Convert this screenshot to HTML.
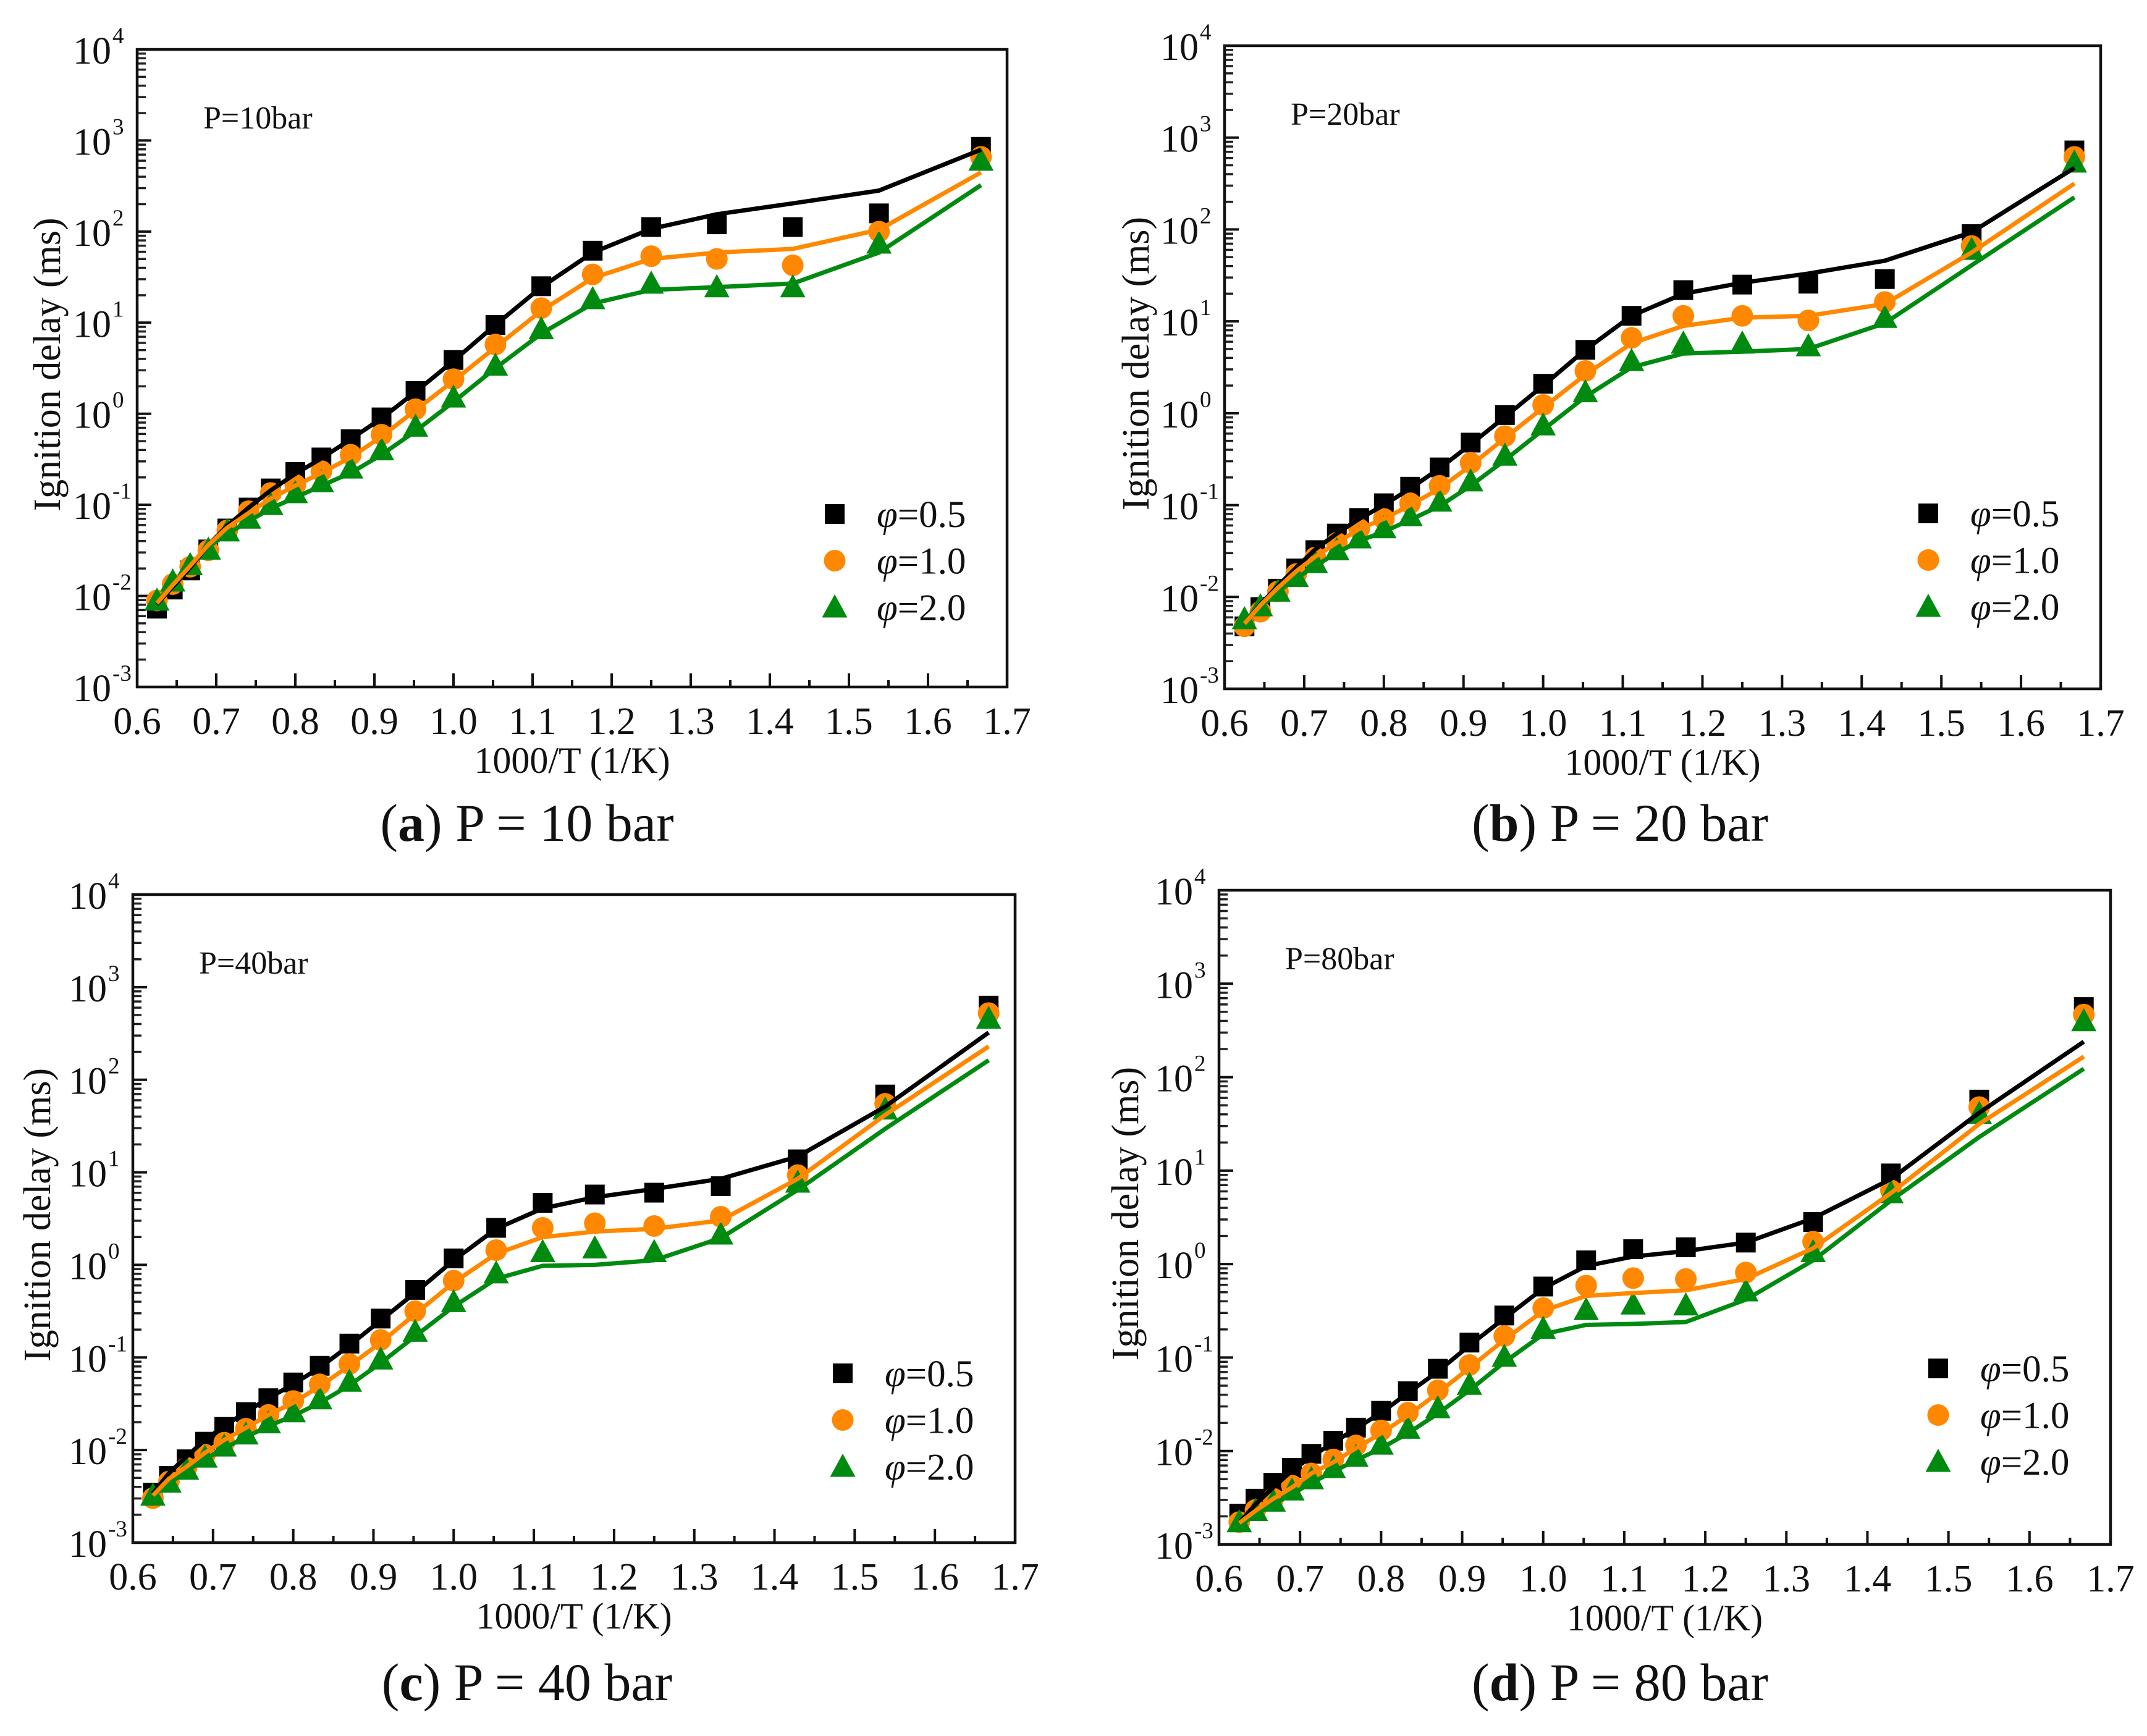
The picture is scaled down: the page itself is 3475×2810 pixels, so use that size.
<!DOCTYPE html>
<html lang="en">
<head>
<meta charset="utf-8">
<title>Ignition delay vs 1000/T</title>
<style>
html,body{margin:0;padding:0;background:#fff;width:3475px;height:2810px;overflow:hidden}
svg{display:block}
text{font-family:"Liberation Serif","DejaVu Serif",serif;fill:#111}
</style>
</head>
<body>
<svg id="fig" xmlns="http://www.w3.org/2000/svg" width="3475" height="2810" viewBox="0 0 3475 2810"></svg>
<script>
// Shared axis content
const inverseTemperature = [0.625,0.645,0.667,0.690,0.714,0.741,0.769,0.8,0.833,0.870,0.909,0.952,1.0,1.053,1.111,1.176,1.25,1.333,1.429,1.538,1.667];
const xTickLabels = ['0.6','0.7','0.8','0.9','1.0','1.1','1.2','1.3','1.4','1.5','1.6','1.7'];
const yTickExponents = [-3,-2,-1,0,1,2,3,4];
const legendLabels = ['=0.5','=1.0','=2.0'];

// Values are log10(ignition delay in ms)
const markers10Phi05 = [-2.14,-1.93,-1.72,-1.49,-1.26,-1.03,-0.82,-0.64,-0.48,-0.28,-0.04,0.25,0.59,0.975,1.40,1.79,2.05,2.08,2.05,2.2,2.93];
const markers10Phi10 = [-2.05,-1.87,-1.68,-1.5,-1.28,-1.07,-0.87,-0.78,-0.63,-0.45,-0.23,0.05,0.38,0.76,1.16,1.53,1.73,1.70,1.63,2.0,2.82];
const markers10Phi20 = [-2.05,-1.84,-1.66,-1.49,-1.29,-1.15,-1.0,-0.87,-0.75,-0.6,-0.4,-0.14,0.18,0.53,0.93,1.26,1.43,1.39,1.39,1.87,2.78];
const lines10Phi05 = [-2.09,-1.9,-1.69,-1.44,-1.23,-1.03,-0.84,-0.66,-0.49,-0.28,-0.05,0.24,0.58,0.975,1.39,1.77,2.03,2.19,2.31,2.45,2.9];
const lines10Phi10 = [-2.08,-1.88,-1.67,-1.44,-1.25,-1.09,-0.93,-0.79,-0.65,-0.48,-0.25,0.04,0.36,0.73,1.13,1.49,1.70,1.77,1.81,2.02,2.65];
const lines10Phi20 = [-2.06,-1.87,-1.67,-1.46,-1.32,-1.18,-1.04,-0.92,-0.79,-0.65,-0.45,-0.19,0.13,0.50,0.88,1.21,1.36,1.39,1.43,1.77,2.51];

const markers20Phi05 = [-2.32,-2.11,-1.91,-1.69,-1.49,-1.31,-1.14,-0.98,-0.80,-0.59,-0.32,-0.02,0.32,0.69,1.06,1.34,1.40,1.41,1.46,1.95,2.86];
const markers20Phi10 = [-2.32,-2.16,-1.94,-1.75,-1.57,-1.41,-1.26,-1.15,-0.98,-0.79,-0.54,-0.25,0.09,0.46,0.82,1.06,1.06,1.01,1.21,1.82,2.79];
const markers20Phi20 = [-2.24,-2.10,-1.94,-1.78,-1.63,-1.49,-1.36,-1.25,-1.12,-0.96,-0.74,-0.46,-0.13,0.23,0.57,0.76,0.76,0.73,1.04,1.78,2.73];
const lines20Phi05 = [-2.29,-2.08,-1.88,-1.68,-1.48,-1.31,-1.15,-1.0,-0.82,-0.60,-0.34,-0.04,0.30,0.69,1.06,1.30,1.42,1.52,1.66,1.97,2.67];
const lines20Phi10 = [-2.29,-2.09,-1.90,-1.72,-1.56,-1.41,-1.26,-1.15,-1.0,-0.82,-0.57,-0.27,0.06,0.42,0.76,0.95,1.04,1.06,1.19,1.75,2.50];
const lines20Phi20 = [-2.28,-2.11,-1.94,-1.80,-1.66,-1.52,-1.39,-1.29,-1.16,-1.01,-0.79,-0.51,-0.18,0.18,0.50,0.65,0.67,0.70,0.98,1.61,2.35];

const markers40Phi05 = [-2.46,-2.28,-2.10,-1.91,-1.75,-1.59,-1.44,-1.27,-1.09,-0.85,-0.58,-0.27,0.07,0.40,0.67,0.76,0.78,0.85,1.14,1.84,2.80];
const markers40Phi10 = [-2.52,-2.34,-2.19,-2.05,-1.92,-1.77,-1.62,-1.47,-1.29,-1.07,-0.81,-0.50,-0.17,0.16,0.40,0.45,0.42,0.52,0.97,1.74,2.72];
const markers40Phi20 = [-2.49,-2.35,-2.21,-2.08,-1.96,-1.83,-1.71,-1.59,-1.45,-1.26,-1.02,-0.72,-0.40,-0.09,0.14,0.18,0.14,0.33,0.89,1.68,2.66];
const lines40Phi05 = [-2.47,-2.25,-2.07,-1.89,-1.74,-1.59,-1.44,-1.29,-1.11,-0.87,-0.60,-0.30,0.05,0.39,0.61,0.73,0.82,0.93,1.17,1.71,2.51];
const lines40Phi10 = [-2.49,-2.31,-2.18,-2.03,-1.89,-1.76,-1.62,-1.49,-1.31,-1.09,-0.84,-0.53,-0.19,0.12,0.30,0.36,0.39,0.48,0.93,1.62,2.36];
const lines40Phi20 = [-2.49,-2.36,-2.23,-2.10,-1.98,-1.86,-1.74,-1.63,-1.49,-1.30,-1.06,-0.77,-0.45,-0.15,-0.01,0.0,0.05,0.29,0.81,1.47,2.21];

const markers80Phi05 = [-2.67,-2.51,-2.34,-2.18,-2.03,-1.89,-1.75,-1.57,-1.36,-1.12,-0.84,-0.55,-0.24,0.04,0.16,0.18,0.23,0.45,0.97,1.76,2.75];
const markers80Phi10 = [-2.76,-2.63,-2.51,-2.37,-2.24,-2.09,-1.94,-1.78,-1.59,-1.35,-1.08,-0.77,-0.47,-0.23,-0.15,-0.16,-0.09,0.24,0.79,1.68,2.67];
const markers80Phi20 = [-2.76,-2.64,-2.54,-2.42,-2.30,-2.18,-2.06,-1.93,-1.76,-1.54,-1.29,-0.99,-0.69,-0.49,-0.43,-0.44,-0.29,0.13,0.76,1.61,2.60];
const lines80Phi05 = [-2.77,-2.57,-2.39,-2.21,-2.06,-1.91,-1.76,-1.59,-1.38,-1.15,-0.87,-0.58,-0.26,-0.02,0.08,0.14,0.23,0.49,0.91,1.62,2.38];
const lines80Phi10 = [-2.77,-2.64,-2.51,-2.39,-2.24,-2.12,-1.97,-1.81,-1.62,-1.38,-1.11,-0.81,-0.50,-0.34,-0.31,-0.28,-0.16,0.17,0.76,1.50,2.22];
const lines80Phi20 = [-2.80,-2.68,-2.57,-2.46,-2.34,-2.22,-2.10,-1.97,-1.81,-1.60,-1.35,-1.05,-0.75,-0.65,-0.64,-0.62,-0.38,0.04,0.68,1.36,2.09];

const NS = 'http://www.w3.org/2000/svg';
const root = document.getElementById('fig');
const BLACK = '#000', ORANGE = '#ff8800', GREEN = '#008a10';

function el(tag, attrs, parent) {
  const n = document.createElementNS(NS, tag);
  for (const k in attrs) n.setAttribute(k, attrs[k]);
  parent.appendChild(n);
  return n;
}

function makeXScale(p) { return v => p.left + (v - 0.6) / 1.1 * (p.right - p.left); }
function makeYScale(p) { return e => p.bottom - (e + 3) / 7 * (p.bottom - p.top); }

function drawSquare(parent, cx, cy, label) {
  const m = el('rect', {x: cx - 16, y: cy - 16, width: 32, height: 32, fill: BLACK}, parent);
  
  
}
function drawCircle(parent, cx, cy, label) {
  const m = el('circle', {cx: cx, cy: cy, r: 17.5, fill: ORANGE}, parent);
  
  
}
function drawTriangle(parent, cx, cy, label) {
  const pts = (cx - 20.5) + ',' + (cy + 16.5) + ' ' + (cx + 20.5) + ',' + (cy + 16.5) + ' ' + cx + ',' + (cy - 21);
  const m = el('polygon', {points: pts, fill: GREEN}, parent);
  
  
}

function drawPanel(p) {
  const x = makeXScale(p), y = makeYScale(p);
  const g = el('g', {}, root);
  
  

  // ticks on x axis
  for (let i = 0; i <= 22; i++) {
    const v = 0.6 + i * 0.05;
    const major = i % 2 === 0;
    const t = el('line', {x1: x(v), x2: x(v), y1: p.bottom, y2: p.bottom - (major ? 22 : 11), stroke: '#111', 'stroke-width': 4}, g);
    
    
  }
  xTickLabels.forEach((label, i) => {
    const t = el('text', {x: x(parseFloat(label)), y: p.bottom + 76, 'font-size': 62, 'text-anchor': 'middle'}, g);
    t.textContent = label;
    
    
  });

  // ticks on y axis
  yTickExponents.forEach(e => {
    const major = el('line', {x1: p.left, x2: p.left + 23, y1: y(e), y2: y(e), stroke: '#111', 'stroke-width': 4}, g);
    
    
    if (e < 4) {
      for (let k = 2; k <= 9; k++) {
        const yy = y(e + Math.log10(k));
        const minor = el('line', {x1: p.left, x2: p.left + 14, y1: yy, y2: yy, stroke: '#222', 'stroke-width': 3.5}, g);
        
        
      }
    }
    const base = el('text', {x: p.left - 42, y: y(e) + 23, 'font-size': 62, 'text-anchor': 'end'}, g);
    base.textContent = '10';
    
    
    const sup = el('text', {x: p.left - 40, y: y(e) - 10, 'font-size': 37}, g);
    sup.textContent = String(e);
    
    
  });

  // markers under curves
  const ms = p.markers, ls = p.lines;
  inverseTemperature.forEach((v, i) => {
    drawSquare(g, x(v), y(ms[0][i]), 'marker-phi-0-5');
  });
  inverseTemperature.forEach((v, i) => {
    drawCircle(g, x(v), y(ms[1][i]), 'marker-phi-1-0');
  });
  inverseTemperature.forEach((v, i) => {
    drawTriangle(g, x(v), y(ms[2][i]), 'marker-phi-2-0');
  });

  // curves
  const curveDefs = [[ls[2], GREEN, 'curve-phi-2-0'], [ls[0], BLACK, 'curve-phi-0-5'], [ls[1], ORANGE, 'curve-phi-1-0']];
  curveDefs.forEach(d => {
    const pts = inverseTemperature.map((v, i) => x(v).toFixed(1) + ',' + y(d[0][i]).toFixed(1)).join(' ');
    const c = el('polyline', {points: pts, fill: 'none', stroke: d[1], 'stroke-width': 7, 'stroke-linejoin': 'round'}, g);
    
    
  });

  // frame
  const frame = el('rect', {x: p.left, y: p.top, width: p.right - p.left, height: p.bottom - p.top, fill: 'none', stroke: '#111', 'stroke-width': 4.5}, g);
  
  

  // pressure annotation
  const ann = el('text', {x: p.left + 107, y: p.top + 128, 'font-size': 52}, g);
  ann.textContent = 'P=' + p.pressure + 'bar';
  
  

  // axis titles
  const xt = el('text', {x: (p.left + p.right) / 2, y: p.bottom + 139, 'font-size': 60, 'text-anchor': 'middle'}, g);
  xt.textContent = '1000/T (1/K)';
  
  
  const ytx = p.left - p.titleOffset, yty = (p.top + p.bottom) / 2 - 6;
  const yt = el('text', {x: ytx, y: yty, 'font-size': 62, 'text-anchor': 'middle', transform: 'rotate(-90 ' + ytx + ' ' + yty + ')'}, g);
  yt.textContent = 'Ignition delay (ms)';
  
  

  // legend
  const lx = p.right - 279, ly = p.bottom - p.legendRise;
  legendLabels.forEach((label, i) => {
    const cy = ly + i * 75.5;
    if (i === 0) drawSquare(g, lx, cy, 'legend-marker-phi-0-5');
    if (i === 1) drawCircle(g, lx, cy, 'legend-marker-phi-1-0');
    if (i === 2) drawTriangle(g, lx, cy, 'legend-marker-phi-2-0');
    const t = el('text', {x: lx + 68, y: cy + 21, 'font-size': 61}, g);
    
    
    const phi = el('tspan', {'font-style': 'italic'}, t);
    phi.textContent = '\u03C6';
    const rest = el('tspan', {}, t);
    rest.textContent = label;
  });

  // caption
  const cap = el('text', {x: p.captionX, y: p.captionY, 'font-size': 86, 'text-anchor': 'middle'}, g);
  
  
  const c1 = el('tspan', {}, cap); c1.textContent = '(';
  const c2 = el('tspan', {'font-weight': 'bold'}, cap); c2.textContent = p.id;
  const c3 = el('tspan', {}, cap); c3.textContent = ') P = ' + p.pressure + ' bar';
}

drawPanel({id: 'a', pressure: 10, left: 222, right: 1630, top: 80, bottom: 1112, titleOffset: 125, legendRise: 280, captionX: 853, captionY: 1361,
  markers: [markers10Phi05, markers10Phi10, markers10Phi20], lines: [lines10Phi05, lines10Phi10, lines10Phi20]});
drawPanel({id: 'b', pressure: 20, left: 1982, right: 3400, top: 74, bottom: 1115, titleOffset: 123, legendRise: 284, captionX: 2622, captionY: 1361,
  markers: [markers20Phi05, markers20Phi10, markers20Phi20], lines: [lines20Phi05, lines20Phi10, lines20Phi20]});
drawPanel({id: 'c', pressure: 40, left: 215, right: 1643, top: 1448, bottom: 2497, titleOffset: 134, legendRise: 274, captionX: 853, captionY: 2752,
  markers: [markers40Phi05, markers40Phi10, markers40Phi20], lines: [lines40Phi05, lines40Phi10, lines40Phi20]});
drawPanel({id: 'd', pressure: 80, left: 1973, right: 3416, top: 1441, bottom: 2500, titleOffset: 131, legendRise: 285, captionX: 2622, captionY: 2752,
  markers: [markers80Phi05, markers80Phi10, markers80Phi20], lines: [lines80Phi05, lines80Phi10, lines80Phi20]});
</script>
</body>
</html>
